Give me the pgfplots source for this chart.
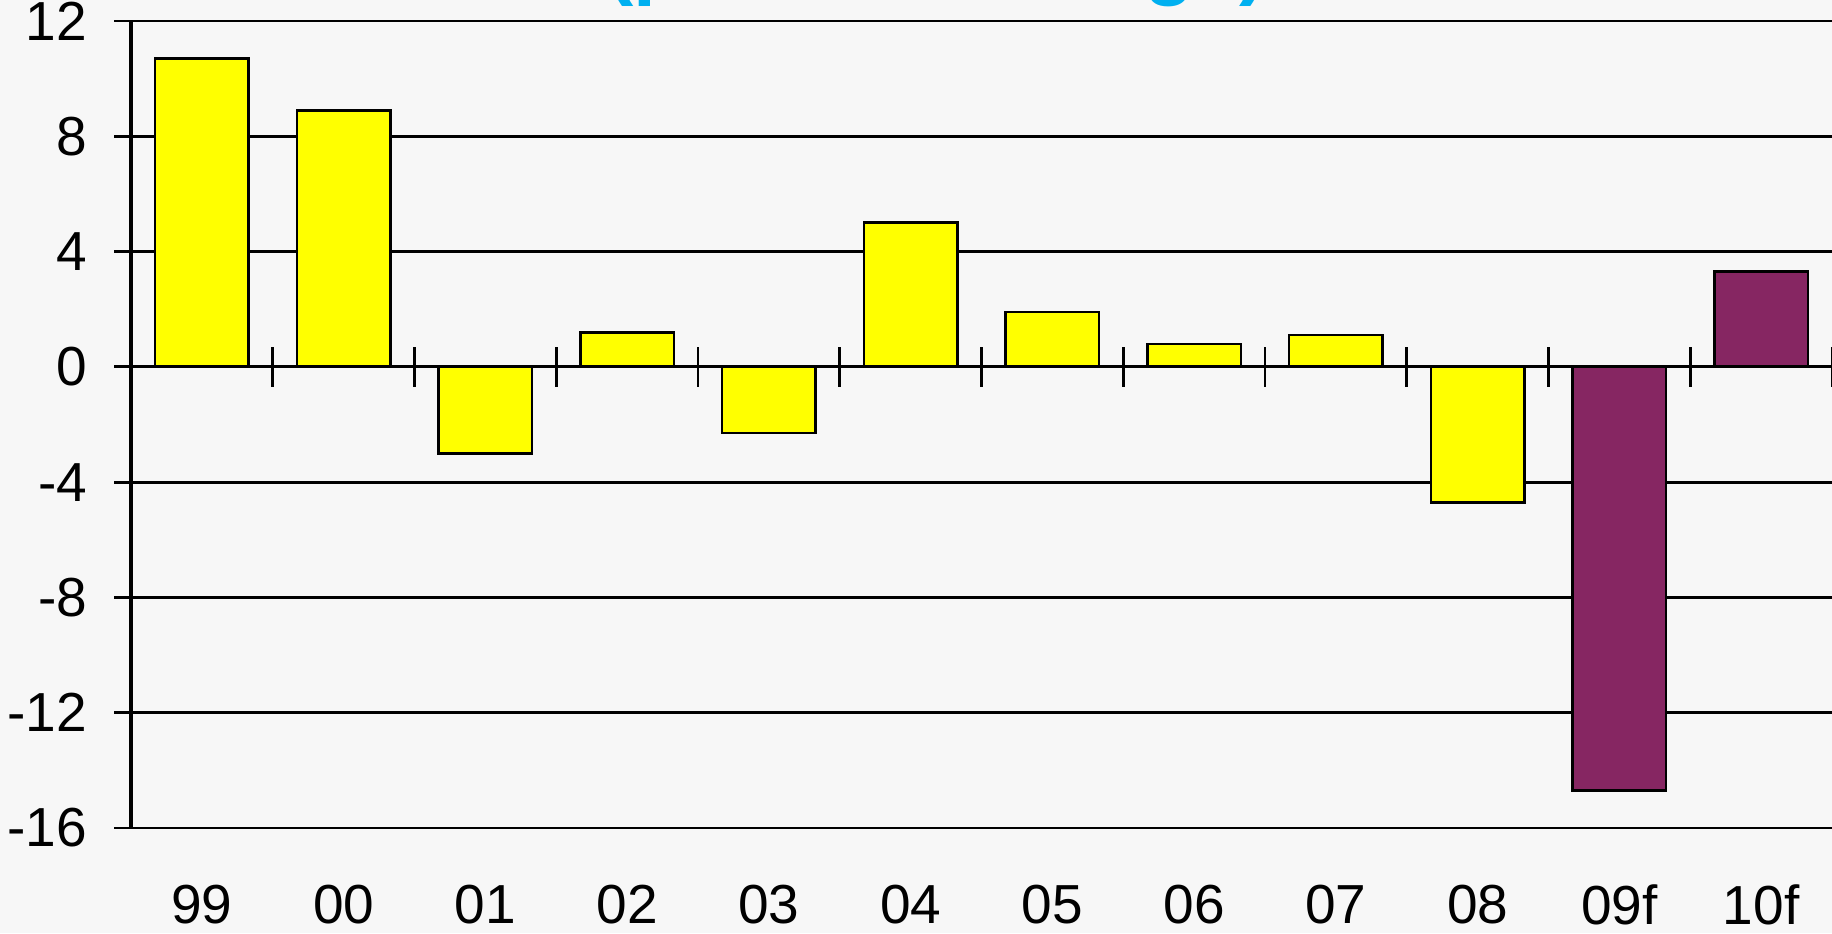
\documentclass[border=0pt]{standalone}
\usepackage{pgfplots}
\pgfplotsset{compat=1.18}
\usepackage{fontspec}
\setmainfont{Liberation Sans}
\definecolor{bgc}{HTML}{F7F7F7}
\definecolor{ybarc}{RGB}{255,255,0}
\definecolor{pbarc}{RGB}{134,38,98}
\definecolor{tcyan}{RGB}{0,176,240}
\begin{document}
\begin{tikzpicture}
\fill[bgc] (-65.5pt,-52.5pt) rectangle (850.5pt,414pt);
\node[anchor=base, font=\fontsize{41}{48}\selectfont\bfseries, text=tcyan] at (403pt,419pt) {(percent change)};
\begin{axis}[
  at={(0,0)}, anchor=south west, scale only axis,
  width=850.5pt, height=403.5pt,
  xmin=-0.5, xmax=11.5, ymin=-16, ymax=12,
  ybar, bar width=0.66, bar shift=0pt,
  axis lines*=left,
  axis line style={line width=1.4pt, -},
  y axis line style={line width=1.8pt, -},
  xtick={0,...,11},
  xticklabels={99,00,01,02,03,04,05,06,07,08,09f,10f},
  x tick style={draw=none},
  ytick={-16,-12,-8,-4,0,4,8,12},
  yticklabels={-16,-12,-8,-4,0,4,8,12},
  y tick style={line width=1.4pt, black},
  tick align=outside, major tick length=8.5pt,
  ymajorgrids, grid style={black, line width=1.4pt},
  tick label style={font=\fontsize{27.5}{31}\selectfont},
  xticklabel style={yshift=-16.5pt},
  yticklabel style={xshift=-10pt},
]
\addplot[fill=ybarc, draw=black, line width=1.3pt] coordinates {(0,10.7) (1,8.9) (2,-3.0) (3,1.2) (4,-2.3) (5,5.0) (6,1.9) (7,0.8) (8,1.1) (9,-4.7)};
\addplot[fill=pbarc, draw=black, line width=1.3pt] coordinates {(10,-14.7) (11,3.3)};
\end{axis}
\begin{axis}[
  at={(0,0)}, anchor=south west, scale only axis,
  width=850.5pt, height=403.5pt,
  xmin=-0.5, xmax=11.5, ymin=-16, ymax=12,
  axis x line=middle, axis y line=none,
  x axis line style={line width=1.4pt, -},
  xtick={-0.5,0.5,...,11.5}, xticklabels={},
  ytick=\empty,
  tick align=center, major tick length=20pt,
  x tick style={line width=1.4pt, black},
]
\end{axis}
\pgfresetboundingbox
\useasboundingbox (-65.5pt,-52.5pt) rectangle (850.5pt,414pt);
\end{tikzpicture}
\end{document}
